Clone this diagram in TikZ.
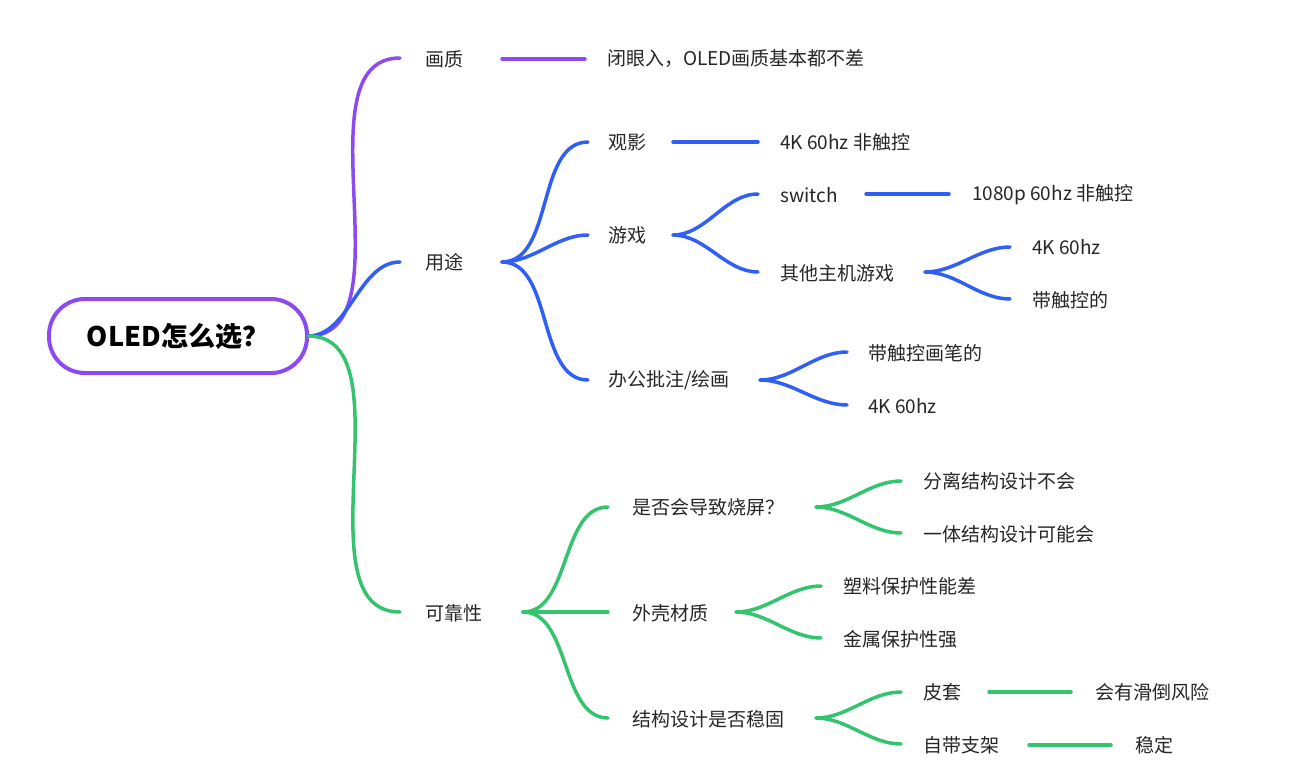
\documentclass[tikz,border=0pt]{standalone}
\usepackage{fontspec}
\setmainfont{Noto Sans CJK SC}
\begin{document}
\begin{tikzpicture}[x=1pt,y=-1pt,
  pu/.style={draw=pcol,line width=3.5pt,line cap=round},
  bl/.style={draw=bcol,line width=3.5pt,line cap=round},
  gr/.style={draw=gcol,line width=3.5pt,line cap=round},
  lbl/.style={anchor=west,inner sep=0pt,font=\fontsize{19}{22}\selectfont,text=black!85},
  cv/.style={out=0,in=180,looseness=0.9}]
\definecolor{pcol}{HTML}{8B4BF0}
\definecolor{bcol}{HTML}{2F5FF5}
\definecolor{gcol}{HTML}{35C46E}
\useasboundingbox (0,0) rectangle (1290,784);
\fill[white] (0,0) rectangle (1290,784);
\node[draw=pcol,line width=4pt,rounded corners=36pt,minimum width=258pt,minimum height=74pt,font=\fontsize{27}{30}\selectfont\bfseries] (root) at (178,336) {OLED怎么选？};
\coordinate (r0) at (308,336);
% level 1
\coordinate (a1) at (400,58);  \node[lbl] (t1) at (425,59) {画质};
\coordinate (a2) at (400,262); \node[lbl] (t2) at (425,262) {用途};
\coordinate (a3) at (400,612); \node[lbl] (t3) at (425,613) {可靠性};
\draw[pu] (r0) to[cv] (a1);
\draw[bl] (r0) to[cv] (a2);
\draw[gr] (r0) to[cv] (a3);
% 画质
\coordinate (q0) at (502,59); \coordinate (q1) at (585,59);
\draw[pu] (q0) -- (q1);
\node[lbl] (q2) at (607,59) {闭眼入，OLED画质基本都不差};
% 用途
\coordinate (u0) at (502,262);
\coordinate (u1) at (588,142); \node[lbl] (tu1) at (608,142) {观影};
\coordinate (u2) at (588,235); \node[lbl] (tu2) at (608,235) {游戏};
\coordinate (u3) at (588,380); \node[lbl] (tu3) at (608,380) {办公批注/绘画};
\draw[bl] (u0) to[cv] (u1); \draw[bl] (u0) to[cv] (u2); \draw[bl] (u0) to[cv] (u3);
\coordinate (v0) at (673,142); \coordinate (v1) at (758,142);
\draw[bl] (v0) -- (v1); \node[lbl] (tv) at (780,142) {4K 60hz 非触控};
\coordinate (g0) at (673,235);
\coordinate (g1) at (758,194); \node[lbl] (tg1) at (780,195) {switch};
\coordinate (g2) at (758,272); \node[lbl] (tg2) at (780,273) {其他主机游戏};
\draw[bl] (g0) to[cv] (g1); \draw[bl] (g0) to[cv] (g2);
\coordinate (s0) at (866,194); \coordinate (s1) at (949,194);
\draw[bl] (s0) -- (s1); \node[lbl] (ts) at (972,195) {1080p 60hz 非触控};
\coordinate (o0) at (925,272);
\coordinate (o1) at (1010,247); \node[lbl] (to1) at (1032,247) {4K 60hz};
\coordinate (o2) at (1010,299); \node[lbl] (to2) at (1032,300) {带触控的};
\draw[bl] (o0) to[cv] (o1); \draw[bl] (o0) to[cv] (o2);
\coordinate (w0) at (760,380);
\coordinate (w1) at (847,352); \node[lbl] (tw1) at (868,353) {带触控画笔的};
\coordinate (w2) at (847,405); \node[lbl] (tw2) at (868,406) {4K 60hz};
\draw[bl] (w0) to[cv] (w1); \draw[bl] (w0) to[cv] (w2);
% 可靠性
\coordinate (k0) at (523,612);
\coordinate (k1) at (608,507); \node[lbl] (tk1) at (632,507) {是否会导致烧屏？};
\coordinate (k2) at (608,612); \node[lbl] (tk2) at (632,613) {外壳材质};
\coordinate (k3) at (608,718); \node[lbl] (tk3) at (632,719) {结构设计是否稳固};
\draw[gr] (k0) to[cv] (k1); \draw[gr] (k0) to[cv] (k2); \draw[gr] (k0) to[cv] (k3);
\coordinate (b0) at (816,507);
\coordinate (b1) at (901,481); \node[lbl] (tb1) at (923,481) {分离结构设计不会};
\coordinate (b2) at (901,533); \node[lbl] (tb2) at (923,534) {一体结构设计可能会};
\draw[gr] (b0) to[cv] (b1); \draw[gr] (b0) to[cv] (b2);
\coordinate (m0) at (736,612);
\coordinate (m1) at (821,586); \node[lbl] (tm1) at (843,586) {塑料保护性能差};
\coordinate (m2) at (821,638); \node[lbl] (tm2) at (843,639) {金属保护性强};
\draw[gr] (m0) to[cv] (m1); \draw[gr] (m0) to[cv] (m2);
\coordinate (c0) at (816,718);
\coordinate (c1) at (901,692); \node[lbl] (tc1) at (923,692) {皮套};
\coordinate (c2) at (901,744); \node[lbl] (tc2) at (923,745) {自带支架};
\draw[gr] (c0) to[cv] (c1); \draw[gr] (c0) to[cv] (c2);
\coordinate (p0) at (989,692); \coordinate (p1) at (1071,692);
\draw[gr] (p0) -- (p1); \node[lbl] (tp) at (1095,692) {会有滑倒风险};
\coordinate (z0) at (1029,745); \coordinate (z1) at (1111,745);
\draw[gr] (z0) -- (z1); \node[lbl] (tz) at (1135,745) {稳定};
\end{tikzpicture}
\end{document}
